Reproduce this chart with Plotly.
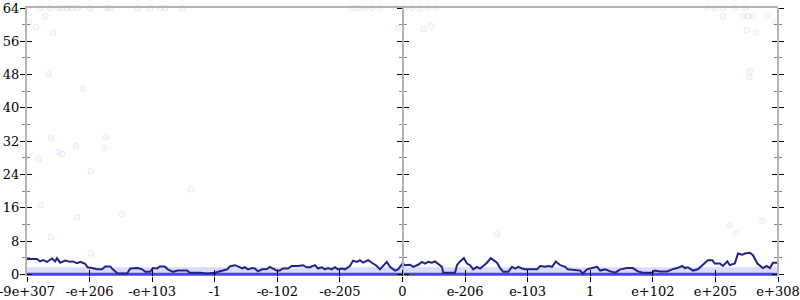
import plotly.graph_objects as go

# ---- data (x in axis units: -6 .. 6, tick positions of the transformed double scale) ----
tick_vals = [-6, -5, -4, -3, -2, -1, 0, 1, 2, 3, 4, 5, 6]
tick_text = ["-9e+307", "-e+206", "-e+103", "-1", "-e-102", "-e-205", "0",
             "e-206", "e-103", "1", "e+102", "e+205", "e+308"]
y_ticks = [0, 8, 16, 24, 32, 40, 48, 56, 64]

line_x = [-6.00, -5.84, -5.79, -5.74, -5.68, -5.60, -5.55, -5.52, -5.47, -5.39, -5.31, -5.27,
          -5.20, -5.15, -5.07, -5.03, -4.96, -4.88, -4.80, -4.75, -4.67, -4.63, -4.55, -4.40,
          -4.35, -4.23, -4.16, -4.11, -4.03, -3.99, -3.92, -3.88, -3.80, -3.75, -3.67, -3.59,
          -3.44, -3.40, -3.24, -3.12, -3.00, -2.92, -2.87, -2.80, -2.76, -2.68, -2.63, -2.56,
          -2.52, -2.47, -2.40, -2.36, -2.31, -2.24, -2.17, -2.12, -2.07, -2.01, -1.96, -1.91,
          -1.83, -1.77, -1.67, -1.59, -1.53, -1.48, -1.40, -1.35, -1.29, -1.24, -1.19, -1.13,
          -1.08, -1.03, -0.97, -0.92, -0.84, -0.79, -0.73, -0.68, -0.63, -0.55, -0.47, -0.41,
          -0.36, -0.28, -0.25, -0.20, -0.12, -0.07, 0.00, 0.04, 0.12, 0.17, 0.25, 0.31, 0.36,
          0.41, 0.47, 0.52, 0.57, 0.63, 0.65, 0.84, 0.87, 0.92, 0.98, 1.03, 1.08, 1.13, 1.19,
          1.24, 1.29, 1.35, 1.41, 1.45, 1.51, 1.56, 1.61, 1.69, 1.75, 1.80, 1.85, 1.91, 1.96,
          2.15, 2.20, 2.28, 2.33, 2.39, 2.45, 2.52, 2.60, 2.64, 2.84, 2.88, 2.95, 3.03, 3.11,
          3.16, 3.24, 3.32, 3.40, 3.48, 3.59, 3.68, 3.76, 3.84, 3.99, 4.03, 4.11, 4.23, 4.31,
          4.39, 4.47, 4.51, 4.56, 4.64, 4.72, 4.80, 4.88, 4.95, 4.99, 5.07, 5.12, 5.19, 5.23,
          5.31, 5.36, 5.43, 5.47, 5.55, 5.60, 5.67, 5.71, 5.76, 5.82, 5.87, 5.92, 6.00]
line_y = [3.7, 3.7, 3.1, 3.4, 3.0, 3.8, 3.1, 3.9, 2.8, 3.3, 3.0, 3.1,
          2.7, 3.0, 2.5, 1.7, 1.5, 1.2, 1.2, 1.9, 1.9, 1.2, 0.2, 0.2,
          1.4, 1.5, 1.2, 0.6, 0.6, 1.5, 1.4, 1.9, 1.9, 1.2, 0.6, 0.9,
          0.9, 0.4, 0.4, 0.2, 0.4, 0.7, 0.9, 1.2, 1.9, 2.2, 1.9, 1.4,
          1.7, 1.2, 1.5, 1.4, 0.7, 1.2, 1.2, 1.8, 1.4, 0.9, 0.9, 1.4,
          1.4, 2.0, 2.0, 2.2, 1.7, 1.7, 2.2, 1.4, 1.7, 1.2, 1.5, 1.2,
          1.7, 1.2, 1.4, 1.2, 2.0, 3.3, 3.0, 3.4, 2.8, 3.4, 2.6, 2.0,
          1.2, 2.6, 3.0, 1.8, 0.9, 1.2, 2.6, 2.2, 2.3, 1.8, 2.3, 3.0, 2.6,
          3.0, 2.8, 3.1, 2.6, 1.8, 0.4, 0.4, 2.2, 3.1, 3.9, 2.6, 2.2, 1.2, 1.8,
          1.4, 2.0, 2.8, 3.9, 3.4, 2.8, 1.5, 0.6, 0.6, 1.8, 1.4, 1.8, 1.4, 1.2,
          1.2, 2.0, 1.8, 2.0, 1.8, 3.1, 2.2, 1.8, 1.2, 0.9, 0.2, 1.2, 1.5, 1.8,
          0.9, 1.2, 0.7, 0.4, 1.2, 1.5, 1.5, 0.7, 0.4, 0.4, 0.9, 0.7, 0.7, 1.2,
          1.5, 2.0, 1.5, 1.7, 0.9, 1.2, 2.3, 3.4, 3.4, 2.6, 2.6, 2.0, 3.1, 2.2,
          2.6, 5.0, 4.7, 5.0, 5.2, 4.6, 2.6, 2.0, 1.5, 2.0, 1.5, 2.8, 2.8]

# scattered samples
pts_x = [-5.79, -5.63, -5.50, -5.44, -5.36, -5.28, -5.19, -4.99, -4.72, -4.67, -4.23, -4.03,
         -3.88, -3.80, -3.52, -0.81, -0.71, -0.60, -0.49, -0.36, -0.12, 0.04, 0.15, 0.28,
         0.41, 0.54, 4.87, 4.99, 5.12, 5.31, 5.47,
         -5.71, -5.97, -5.86, -5.58, -5.66, -5.11, -5.62, -5.81, -5.50, -5.44, -5.22, -4.74,
         -4.77, -4.98, -3.38, -5.78, -5.20, -4.48, -5.62, -4.98, -0.07, 0.34, 0.46,
         5.12, 5.44, 5.52, 5.60, 5.84, 5.95, 5.50, 5.65, 5.55, 5.54, 1.51, 5.23, 5.75, 5.33]
pts_y = [64] * 31 + [
         62.1, 60.6, 59.4, 58.0, 48.1, 44.7, 32.7, 27.7, 29.4, 28.9, 30.8, 33.0,
         30.3, 24.8, 20.4, 16.6, 13.7, 14.4, 8.9, 5.0, 59.2, 59.0, 59.7,
         62.0, 62.0, 62.0, 62.0, 62.2, 60.6, 58.7, 58.2, 48.8, 47.4, 9.6, 11.8, 12.8, 9.9]

# dense sample bands (error levels hit across the whole range)
band_x = [-6, 6]
band0_y = [0, 0]
band1_y = [1, 1]

FONT = "DejaVu Serif"
GRAY = "#b4b4b4"

fig = go.Figure()
fig.add_trace(go.Scatter(x=band_x, y=band1_y, mode="lines",
                         line=dict(color="rgba(110,110,240,0.25)", width=6), hoverinfo="skip"))
fig.add_trace(go.Scatter(x=band_x, y=band0_y, mode="lines",
                         line=dict(color="rgba(50,50,225,0.9)", width=3), hoverinfo="skip"))
fig.add_trace(go.Scatter(x=pts_x, y=pts_y, mode="markers", cliponaxis=False,
                         marker=dict(size=6, color="rgba(120,120,235,0.05)",
                                     line=dict(color="rgba(120,120,235,0.12)", width=1)),
                         hoverinfo="skip"))
fig.add_trace(go.Scatter(x=line_x, y=line_y, mode="lines",
                         line=dict(color="#22228f", width=2), hoverinfo="skip"))

# dummy traces so all overlay axes are drawn
for xa, ya in [("x2", "y2"), ("x", "y3"), ("x", "y4"), ("x", "y5"), ("x", "y6"), ("x3", "y")]:
    fig.add_trace(go.Scatter(x=[None], y=[None], xaxis=xa, yaxis=ya, showlegend=False,
                             hoverinfo="skip"))

yr = [-0.4, 64]
common_y = dict(range=yr, tickvals=y_ticks, showgrid=False, zeroline=False, automargin=False,
                showline=True, linecolor=GRAY, linewidth=2, tickcolor="black",
                ticklen=5, tickwidth=1, ticklabelstandoff=-2,
                minor=dict(dtick=4, ticklen=3, tickcolor="#888888", tickwidth=1, ticks=""),
                tickfont=dict(family=FONT, size=13, color="black"))

def ycfg(ticks, side="left", pos=None, labels=False, overlay=True):
    d = dict(common_y)
    d["ticks"] = ticks
    d["minor"] = dict(common_y["minor"], ticks=ticks)
    d["side"] = side
    d["showticklabels"] = labels
    if overlay:
        d["overlaying"] = "y"
    if pos is not None:
        d["anchor"] = "free"
        d["position"] = pos
    return d

fig.update_layout(
    width=800, height=300,
    margin=dict(l=27, r=22, t=8, b=24, autoexpand=False),
    paper_bgcolor="white", plot_bgcolor="white",
    showlegend=False,
    xaxis=dict(range=[-6, 6], tickvals=tick_vals, ticktext=tick_text, ticks="outside",
               ticklen=5, tickcolor="black", showgrid=False, zeroline=False, showline=False,
               automargin=False, ticklabeloverflow="allow", ticklabelstandoff=-2,
               tickfont=dict(family=FONT, size=13, color="black")),
    xaxis2=dict(range=[-6, 6], overlaying="x", tickvals=tick_vals, ticks="inside", ticklen=6,
                tickcolor="black", showticklabels=False, showgrid=False, zeroline=False,
                showline=False, side="bottom", anchor="y2", automargin=False),
    xaxis3=dict(range=[-6, 6], overlaying="x", side="top", showline=True, linecolor=GRAY,
                linewidth=2, ticks="", showticklabels=False, showgrid=False, zeroline=False,
                automargin=False),
    yaxis=ycfg("outside", labels=True, overlay=False),
    yaxis2=ycfg("inside"),
    yaxis3=ycfg("outside", pos=0.5),
    yaxis4=ycfg("inside", pos=0.5),
    yaxis5=ycfg("outside", side="right", pos=1.0),
    yaxis6=ycfg("inside", side="right", pos=1.0),
)

fig.write_html("out.html")
